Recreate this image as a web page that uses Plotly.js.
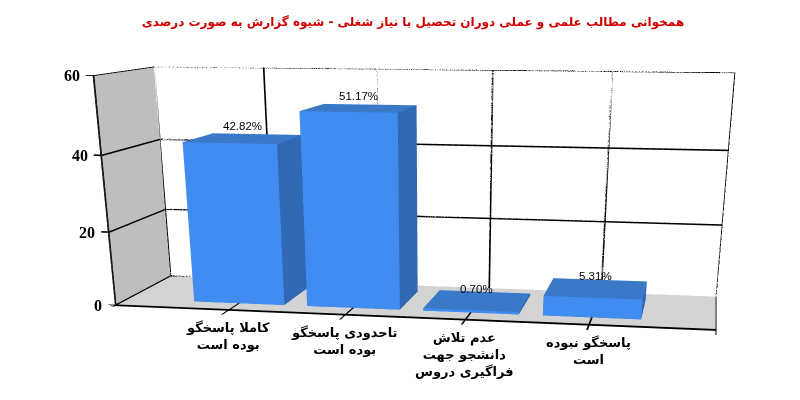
<!DOCTYPE html>
<html><head><meta charset="utf-8"><script src="https://cdn.plot.ly/plotly-3.0.1.min.js"></script>
<style>html,body{margin:0;padding:0;background:#fff;width:800px;height:400px;overflow:hidden}</style></head>
<body><div id="c"></div>
<script>
var chartTitle='همخوانی مطالب علمی و عملی دوران تحصیل با نیاز شغلی - شیوه گزارش به صورت درصدی';
var categories=['کاملا پاسخگو<br>بوده است','تاحدودی پاسخگو<br>بوده است','عدم تلاش<br>دانشجو جهت<br>فراگیری دروس','پاسخگو نبوده<br>است'];
var values=[42.82,51.17,0.70,5.31];
var valueLabels=['42.82%','51.17%','0.70%','5.31%'];
var valueTicks=[0,20,40,60];
var slots=[1,2,3,4];
var xMax=5,depth=1,zMax=60;
var halfWidth=0.4006,barFront=0.2094,barBack=0.7912;
var colFront='#418CF0',colSide='#3068B3',colTop='#3A78C8';

var traces=[];
var flat={ambient:1,diffuse:0,specular:0,fresnel:0,roughness:1};
traces.push({type:'mesh3d',x:[0,xMax,xMax,0],y:[0,0,depth,depth],z:[0,0,0,0],i:[0,0],j:[1,2],k:[2,3],color:'#D3D3D3',lighting:flat,hoverinfo:'skip'});
traces.push({type:'mesh3d',x:[0,0,0,0],y:[0,depth,depth,0],z:[0,0,zMax,zMax],i:[0,0],j:[1,2],k:[2,3],color:'#BEBEBE',lighting:flat,hoverinfo:'skip'});
values.forEach(function(v,n){
  var a=slots[n]-halfWidth,b=slots[n]+halfWidth;
  traces.push({type:'mesh3d',flatshading:true,lighting:flat,hoverinfo:'skip',
    x:[a,b,b,a,a,b,b,a],y:[barFront,barFront,barBack,barBack,barFront,barFront,barBack,barBack],z:[0,0,0,0,v,v,v,v],
    i:[0,0,1,1,4,4,0,0,3,3,2,2],j:[1,5,2,6,5,6,3,7,7,6,3,1],k:[5,4,6,5,6,7,7,4,6,2,0,0],
    facecolor:[colFront,colFront,colSide,colSide,colTop,colTop,colSide,colSide,colSide,colSide,colSide,colSide]});
});
// grid, frame and ticks: thin flat strips
var lx=[],ly=[],lz=[],li=[],lj=[],lk=[];
var dX=[0.015,0,0],dY=[0,0.05,0],dZ=[0,0,0.42];
function strip(a,b,d){var n=lx.length;
  [[a,-1],[a,1],[b,1],[b,-1]].forEach(function(q){lx.push(q[0][0]+q[1]*d[0]/2);ly.push(q[0][1]+q[1]*d[1]/2);lz.push(q[0][2]+q[1]*d[2]/2)});
  li.push(n,n);lj.push(n+1,n+2);lk.push(n+2,n+3)}
var lift=0.06,off=0.006;
valueTicks.forEach(function(t){
  var zt=t===0?t+0.2:t;
  strip([-0.065,0,t],[0,0,t],dZ);
  strip([off,0,zt],[off,depth,zt],dZ);
  strip([0,depth,zt],[xMax,depth,zt],dZ);
});
slots.forEach(function(s){
  strip([s,depth,0],[s,depth,zMax],dX);
  strip([s,-0.14,lift],[s,barFront,lift],dX);
});
strip([0,0,0],[0,0,zMax],dX);
strip([0,depth,0],[0,depth,zMax],dX);
strip([xMax,depth,0],[xMax,depth,zMax],dX);
strip([0,0,lift],[xMax,0,lift],dY);
strip([xMax,-0.14,lift],[xMax,depth,lift],dX);
strip([0,-0.05,lift],[0,0,lift],dX);
traces.push({type:'mesh3d',x:lx,y:ly,z:lz,i:li,j:lj,k:lk,color:'#000',lighting:flat,hoverinfo:'skip'});

var ann=[];
var barMid=(barFront+barBack)/2;
values.forEach(function(v,n){ann.push({x:slots[n],y:barMid,z:v,text:valueLabels[n],showarrow:false,xanchor:'center',yanchor:'bottom',yshift:4,xshift:-1,font:{family:'Liberation Sans',size:11.5,color:'#000'}})});
valueTicks.forEach(function(t){ann.push({x:0,y:0,z:t,text:String(t),showarrow:false,xanchor:'right',yanchor:'middle',xshift:-11.5,font:{family:'Liberation Serif',size:16,color:'#000',weight:700}})});
categories.forEach(function(c,n){ann.push({x:slots[n],y:0,z:0,text:c,showarrow:false,xanchor:'center',yanchor:'top',yshift:-8,xshift:-1,font:{family:'DejaVu Sans',size:13,color:'#000',weight:700}})});

Plotly.newPlot('c',traces,{width:874,height:1175,margin:{l:0,r:0,t:40,b:0,pad:0},paper_bgcolor:'#fff',showlegend:false,hovermode:false,
 title:{text:chartTitle,xref:'container',yref:'container',x:413/874,y:1-22/1175,xanchor:'center',yanchor:'middle',font:{family:'DejaVu Sans',size:12,color:'#D00000',weight:700}},
 scene:{domain:{x:[0,1],y:[0,1]},aspectmode:'manual',aspectratio:{x:1.014,y:.29663,z:.3642},bgcolor:'#fff',hovermode:false,
  camera:{projection:{type:'perspective'},eye:{x:.4669,y:-2.29679,z:.3102},center:{x:-.0891,y:.69061,z:-1.0678},up:{x:.0065,y:-.0201,z:1}},
  xaxis:{range:[-0.07,xMax],visible:false},yaxis:{range:[-0.14,depth],visible:false},zaxis:{range:[0,zMax],visible:false},annotations:ann}},
 {displayModeBar:false});
</script></body></html>
